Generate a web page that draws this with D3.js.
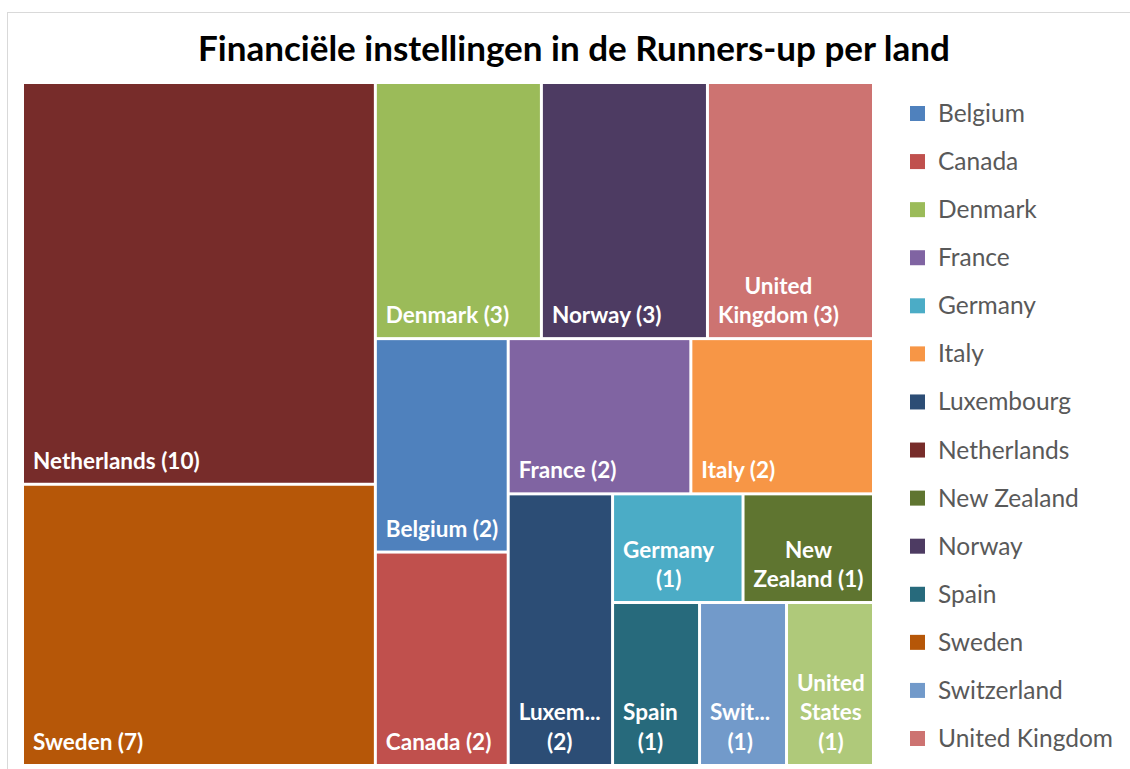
<!DOCTYPE html>
<html>
<head>
<meta charset="utf-8">
<script src="https://cdn.jsdelivr.net/npm/d3@7"></script>
<style>
  body { margin: 0; background: #fff; }
  svg { display: block; }
</style>
</head>
<body>
<svg id="canvas"></svg>
<script>
// data, alphabetical like the source sheet
const countries = ["Belgium", "Canada", "Denmark", "France", "Germany", "Italy", "Luxembourg",
    "Netherlands", "New Zealand", "Norway", "Spain", "Sweden", "Switzerland",
    "United Kingdom", "United States"];
const counts = [2, 2, 3, 2, 1, 2, 2, 10, 1, 3, 1, 7, 1, 3, 1];
const colors = ["#4f81bd", "#c0504d", "#9bbb59", "#8064a2", "#4bacc6", "#f79646", "#2c4d75",
    "#772c2a", "#5f7530", "#4d3b62", "#276a7c", "#b65708", "#729aca", "#cd7371", "#afc97a"];
const title = "Financiële instellingen in de Runners-up per land";
// legend leaves out the last country, as in the original
const legendItems = countries.slice(0, 14);

const width = 1130,
    height = 769;

const svg = d3.select("#canvas")
    .attr("width", width)
    .attr("height", height);

svg.append("rect")
    .attr("x", 7.5).attr("y", 12.5)
    .attr("width", 1140).attr("height", 780)
    .attr("fill", "#fff")
    .attr("stroke", "#d9d9d9");

svg.append("text")
    .attr("x", 574)
    .attr("y", 61)
    .attr("text-anchor", "middle")
    .style("font-family", "Lato, sans-serif")
    .style("font-weight", "bold")
    .style("font-size", "35px")
    .attr("fill", "#000")
    .text(title);

const box = { x: 24, y: 84, width: 848, height: 680 };

const color = d3.scaleOrdinal().domain(countries).range(colors);

// Excel fills the area strip by strip; these are its strip sizes
const stripSizes = [2, 3, 2, 2, 1, 2, 3];
function excelTile(parent, x0, y0, x1, y1) {
    const nodes = parent.children;
    let value = parent.value, i0 = 0;
    stripSizes.forEach((k, i) => {
        const children = nodes.slice(i0, i0 + k);
        const sum = d3.sum(children, d => d.value);
        const row = { value: sum, children: children };
        const dx = x1 - x0, dy = y1 - y0;
        const last = i === stripSizes.length - 1;
        const dice = last ? dx >= dy : dx < dy;
        if (dice) d3.treemapDice(row, x0, y0, x1, last ? y1 : (y0 += dy * sum / value));
        else d3.treemapSlice(row, x0, y0, last ? x1 : (x0 += dx * sum / value), y1);
        value -= sum;
        i0 += k;
    });
}

const rootData = { children: countries.map((c, i) => ({ name: c, value: counts[i] })) };
const root = d3.hierarchy(rootData)
    .sum(d => d.value || 0)
    .sort((a, b) => b.value - a.value || countries.indexOf(a.data.name) - countries.indexOf(b.data.name));

d3.treemap()
    .tile(excelTile)
    .size([box.width, box.height])
    .paddingInner(3)(root);

const mainGroup = svg.append("g")
    .attr("transform", `translate(${box.x}, ${box.y})`);

const cells = mainGroup.selectAll("g.cell")
    .data(root.leaves())
    .join("g")
    .classed("cell", true)
    .attr("transform", d => `translate(${d.x0}, ${d.y0})`);

cells.append("rect")
    .attr("width", d => d.x1 - d.x0)
    .attr("height", d => d.y1 - d.y0)
    .attr("fill", d => color(d.data.name));

// label wrapping
const labelFont = { family: "Lato, sans-serif", size: 22.5, lineHeight: 29.5 };
const measure = svg.append("text")
    .style("font-family", labelFont.family)
    .style("font-weight", "bold")
    .style("font-size", labelFont.size + "px")
    .attr("visibility", "hidden");
function textWidth(s) {
    measure.text(s);
    return measure.node().getComputedTextLength();
}
function wrapLabel(label, maxW) {
    const words = label.split(" ");
    const lines = [];
    let cur = "";
    words.forEach(w => {
        const next = cur ? cur + " " + w : w;
        if (textWidth(next) <= maxW) { cur = next; return; }
        if (cur) lines.push(cur);
        cur = w;
    });
    if (cur) lines.push(cur);
    return lines.map(l => {
        if (textWidth(l) <= maxW) return l;
        let n = l.length;
        while (n > 1 && textWidth(l.slice(0, n) + "...") > maxW) n--;
        return l.slice(0, n) + "...";
    });
}

const pad = 9;
cells.each(function (d) {
    const w = d.x1 - d.x0, h = d.y1 - d.y0;
    const lines = wrapLabel(`${d.data.name} (${d.data.value})`, w - 2 * pad + 4);
    const blockW = d3.max(lines, textWidth);
    const cx = pad + blockW / 2;
    const lastBase = h - 14;
    d3.select(this).append("text")
        .attr("text-anchor", "middle")
        .style("font-family", labelFont.family)
        .style("font-weight", "bold")
        .style("font-size", labelFont.size + "px")
        .attr("fill", "#fff")
        .selectAll("tspan")
        .data(lines)
        .join("tspan")
        .attr("x", cx)
        .attr("y", (l, i) => lastBase - (lines.length - 1 - i) * labelFont.lineHeight)
        .text(l => l);
});
measure.remove();

// legend
const legendY = d3.scalePoint()
    .domain(legendItems)
    .range([113.5, 738.5]);

const legend = svg.append("g").classed("legend", true);
const legendRows = legend.selectAll("g")
    .data(legendItems)
    .join("g")
    .attr("transform", d => `translate(910, ${legendY(d)})`);
legendRows.append("rect")
    .attr("x", 0).attr("y", -7.5)
    .attr("width", 15).attr("height", 15)
    .attr("fill", d => color(d));
legendRows.append("text")
    .attr("x", 28)
    .attr("y", 8.5)
    .style("font-family", "Lato, sans-serif")
    .style("font-size", "24.5px")
    .attr("fill", "#595959")
    .text(d => d);
</script>
</body>
</html>
